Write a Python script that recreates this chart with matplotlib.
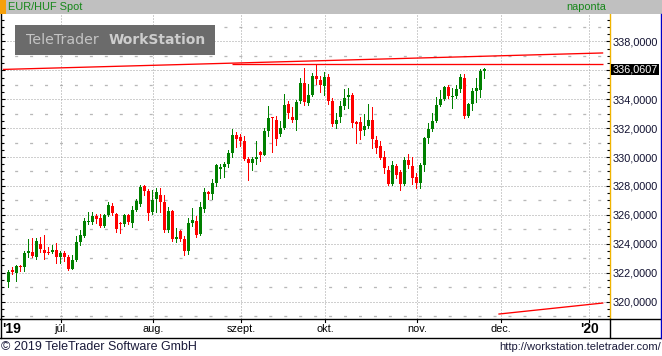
import matplotlib
matplotlib.use("Agg")
import matplotlib.pyplot as plt
import matplotlib.transforms as mtransforms
from matplotlib.lines import Line2D
from matplotlib.patches import Rectangle
from matplotlib.ticker import MultipleLocator, FuncFormatter
import numpy as np
import pandas as pd

plt.rcParams['font.family'] = ['Liberation Sans', 'DejaVu Sans']

# ---------------- data ----------------
title = "EUR/HUF Spot"
period_label = "naponta"
start_date = "2019-06-12"
end_axis_date = "2020-01-31"

opens = [
    321.37, 322.18, 322.00, 322.44, 322.41, 323.36, 323.43, 323.06, 323.98, 323.57,
    323.43, 323.43, 323.57, 323.11, 323.38, 323.08, 322.28, 322.87, 324.10, 324.54,
    325.51, 325.51, 325.92, 325.80, 325.23, 325.99, 326.64, 326.06, 325.46, 325.34,
    325.99, 325.46, 326.33, 326.75, 327.99, 327.67, 326.17, 327.09, 327.37, 326.89,
    324.95, 326.26, 324.30, 324.88, 324.33, 323.52, 325.46, 325.57, 324.67, 326.38,
    327.58, 327.44, 328.20, 329.17, 329.31, 329.52, 330.28, 331.52, 331.41, 331.11,
    329.86, 329.59, 329.89, 330.35, 330.14, 331.78, 332.75, 332.56, 331.57, 331.98,
    333.67, 332.77, 332.56, 333.88, 335.12, 333.76, 334.29, 335.61, 335.33, 334.94,
    335.51, 333.88, 332.28, 332.79, 333.53, 334.15, 334.29, 332.45, 332.40, 331.89,
    332.17, 332.56, 331.18, 330.78, 330.02, 329.10, 328.13, 329.38, 328.94, 328.11,
    329.79, 329.38, 328.62, 328.18, 329.45, 331.34, 331.94, 332.49, 333.60, 334.01,
    334.84, 334.15, 334.22, 334.71, 335.49, 332.84, 333.67, 334.57, 334.66, 335.98,
]
highs = [
    322.18, 322.37, 322.53, 322.51, 323.50, 324.33, 324.38, 324.38, 324.47, 324.61,
    323.75, 323.91, 324.03, 323.47, 323.50, 323.20, 323.20, 324.54, 324.95, 325.76,
    326.17, 326.19, 326.06, 326.06, 326.06, 326.87, 326.80, 326.15, 325.53, 326.06,
    326.06, 326.61, 327.09, 328.04, 328.06, 327.76, 327.72, 327.86, 327.86, 327.37,
    326.56, 326.33, 325.09, 324.95, 324.53, 325.78, 326.49, 325.92, 326.86, 327.83,
    327.67, 328.48, 329.52, 329.52, 329.68, 330.48, 331.92, 331.73, 331.59, 331.45,
    330.02, 330.02, 331.11, 330.44, 331.98, 333.53, 332.79, 332.84, 332.49, 334.36,
    333.85, 333.46, 333.95, 335.47, 336.14, 335.05, 335.81, 336.39, 335.61, 335.86,
    335.74, 334.06, 333.02, 333.88, 334.71, 334.75, 334.45, 332.52, 332.77, 332.98,
    333.65, 333.44, 331.45, 331.11, 330.42, 329.38, 329.72, 329.49, 329.10, 330.02,
    330.21, 330.02, 328.87, 329.56, 331.41, 332.33, 333.07, 334.15, 334.64, 334.94,
    334.98, 334.75, 334.98, 335.77, 335.74, 333.76, 334.75, 335.49, 336.07, 336.18,
]
lows = [
    321.03, 321.91, 321.42, 322.11, 322.14, 323.11, 323.06, 322.95, 323.41, 322.97,
    323.29, 323.34, 322.69, 322.65, 322.83, 322.18, 322.23, 322.81, 323.91, 324.47,
    325.37, 325.39, 325.46, 325.16, 325.16, 325.92, 325.99, 324.81, 324.77, 325.25,
    325.39, 325.18, 326.26, 326.61, 327.37, 325.64, 326.06, 326.22, 326.19, 324.83,
    324.79, 324.19, 324.14, 324.21, 323.24, 323.29, 325.23, 324.44, 324.60, 326.22,
    327.07, 327.09, 328.02, 328.57, 328.64, 329.33, 330.02, 330.72, 330.78, 329.79,
    328.41, 329.10, 329.52, 329.72, 330.14, 331.45, 330.37, 330.83, 331.45, 331.94,
    332.72, 332.45, 331.87, 333.76, 333.58, 333.60, 334.20, 335.03, 334.52, 334.29,
    333.67, 332.17, 331.98, 332.45, 333.32, 333.37, 332.10, 330.99, 331.27, 331.52,
    332.03, 330.65, 330.30, 329.84, 328.87, 328.06, 328.06, 328.57, 327.72, 328.06,
    329.26, 328.11, 327.83, 327.88, 329.03, 330.99, 331.80, 332.45, 333.53, 333.95,
    334.11, 333.41, 334.11, 334.52, 332.72, 332.79, 333.25, 333.83, 334.15, 335.49,
]
closes = [
    322.07, 322.04, 322.46, 322.37, 323.36, 323.50, 323.15, 324.21, 323.64, 323.38,
    323.36, 323.57, 323.11, 323.38, 323.11, 322.25, 322.87, 324.10, 324.61, 325.57,
    325.60, 325.92, 325.74, 325.25, 325.99, 326.68, 326.11, 325.04, 325.39, 325.97,
    325.48, 326.33, 326.96, 327.92, 327.67, 326.15, 327.02, 327.58, 326.89, 324.95,
    326.26, 324.33, 324.49, 324.33, 323.52, 325.46, 325.64, 324.60, 326.56, 327.58,
    327.44, 328.18, 329.45, 329.33, 329.52, 330.28, 331.52, 331.25, 331.11, 329.84,
    329.59, 329.86, 330.02, 330.16, 331.78, 332.70, 332.68, 331.25, 331.98, 333.60,
    333.07, 332.56, 333.81, 335.12, 333.83, 334.29, 335.58, 335.40, 334.98, 335.54,
    333.90, 332.28, 332.56, 333.53, 334.08, 334.29, 332.38, 332.26, 331.82, 332.17,
    332.56, 331.22, 330.65, 329.91, 329.22, 328.13, 329.45, 328.75, 328.11, 329.79,
    329.45, 328.57, 328.22, 329.45, 331.34, 331.94, 332.49, 333.60, 334.01, 334.84,
    334.22, 334.22, 334.71, 335.54, 332.84, 333.67, 334.57, 334.75, 335.98, 336.0607,
]
last_price = 336.0607

month_names = {7: "júl.", 8: "aug.", 9: "szept.", 10: "okt.", 11: "nov.", 12: "dec."}
year_labels = {2019: "'19", 2020: "'20"}

# trend lines (x in trading-day index, y in HUF)
trend_up_x = [-1.3, 148.7]
trend_up_y = [336.06, 337.20]
resist_x = [56.0, 148.7]
resist_y = [336.42, 336.42]
trend_low_x = [122.5, 148.75]
trend_low_y = [319.13, 319.90]

# ---------------- figure ----------------
W, H, DPI = 662, 356, 100
fig = plt.figure(figsize=(W / DPI, H / DPI), dpi=DPI, facecolor="white")

def fx(p):
    return p / W

def fy(p):
    return 1 - p / H

HEAD = 13.5
PLOT_BOTTOM = 319.3
PLOT_RIGHT = 610.0

ax = fig.add_axes([fx(1), fy(PLOT_BOTTOM), fx(PLOT_RIGHT - 1), (PLOT_BOTTOM - HEAD) / H])
ax.set_facecolor("white")
ax.set_xlim(-1.8, 150.4)
ax.set_ylim(318.77, 339.93)

o = np.array(opens); h = np.array(highs); l = np.array(lows); c = np.array(closes)
idx = np.arange(len(o))
cols = np.where(c >= o, "#008000", "#ff0000")

# grid
px_lw = 72.0 / DPI
for v in range(320, 340, 2):
    ax.axhline(v, color="#a0a0a0", lw=px_lw, ls=(0, (1, 2)), zorder=1)
for v in range(319, 341, 2):
    ax.axhline(v, color="#b8b8b8", lw=px_lw * 1.3, ls=(1, (2.3, 9.2)), zorder=1)

all_days = pd.bdate_range(start_date, end_axis_date)
month_pos = []
for i in range(1, len(all_days)):
    if all_days[i].month != all_days[i - 1].month:
        month_pos.append((i, all_days[i]))
for i, d in month_pos:
    ax.axvline(i + 0.25, color="#a0a0a0", lw=px_lw, ls=(0, (1, 2)), zorder=1)

# candles
ax.vlines(idx, l, h, colors=cols, lw=px_lw, zorder=3, antialiased=False)
body_bottom = np.minimum(o, c)
body_height = np.maximum(np.abs(c - o), 0.07)
ax.bar(idx, body_height, bottom=body_bottom, width=0.78, color=cols,
       linewidth=0, zorder=4, antialiased=False)

# trend lines
for xs, ys in [(trend_up_x, trend_up_y), (resist_x, resist_y), (trend_low_x, trend_low_y)]:
    ax.plot(xs, ys, color="#ff0000", lw=0.95, zorder=5, solid_capstyle="butt")

# axes styling
for s in ["top", "bottom"]:
    ax.spines[s].set_visible(False)
ax.spines["left"].set_color("black")
ax.spines["left"].set_linewidth(1.0)
ax.spines["right"].set_color("#f0b400")
ax.spines["right"].set_linewidth(1.0)
ax.set_xticks([])
ax.set_yticks(range(320, 340, 2))
ax.yaxis.set_minor_locator(MultipleLocator(0.5))

def ylabel_fmt(v, p):
    # the level right under the last-price box is covered by it in the original
    if abs(v - round(last_price)) < 1e-9:
        return ""
    return f"{v:.4f}".replace(".", ",")

ax.yaxis.set_major_formatter(FuncFormatter(ylabel_fmt))
ax.tick_params(axis="y", which="major", direction="in", left=True, right=True,
               length=3.2, width=0.8, color="black", labelleft=False, labelright=True,
               labelsize=7.8, labelcolor="#101030", pad=2.2)
ax.tick_params(axis="y", which="minor", direction="in", left=True, right=True,
               length=2.2, width=0.8, color="black")

fig.canvas.draw()
# last price box
y_disp = ax.transData.transform((0, last_price))[1]
fig.patches.append(Rectangle((610.8, y_disp - 5.5), 48.5, 11, transform=None,
                             facecolor="black", edgecolor="none", zorder=10))
fig.text(fx(612.3), y_disp / H, f"{last_price:.4f}".replace(".", ","), color="white",
         fontsize=7.8, ha="left", va="center", zorder=11)

# header
fig.patches.append(Rectangle((0, fy(HEAD)), 1, HEAD / H, transform=fig.transFigure,
                             facecolor="#c0c0c0", edgecolor="none", zorder=0))
fig.patches.append(Rectangle((0, fy(HEAD)), fx(5.5), HEAD / H, transform=fig.transFigure,
                             facecolor="#f5a00a", edgecolor="none", zorder=1))
fig.text(fx(8), fy(6.8), title, color="#17871a", fontsize=7.9, ha="left", va="center")
fig.text(fx(606), fy(6.8), period_label, color="#17871a", fontsize=7.9, ha="right", va="center")

# logo
fig.patches.append(Rectangle((fx(15), fy(55)), fx(200), 30 / H, transform=fig.transFigure,
                             facecolor="#6b6b6b", edgecolor="none", zorder=20))
fig.text(fx(26), fy(40.5), "TeleTrader", color="#c4c4c4", fontsize=10.2,
         family="DejaVu Sans", ha="left", va="center", zorder=21)
fig.text(fx(109), fy(40.5), "WorkStation", color="#cdcdcd", fontsize=10.0,
         family="DejaVu Sans", weight="bold", ha="left", va="center", zorder=21)

# frame lines
frame = [
    ((0, W), (PLOT_BOTTOM, PLOT_BOTTOM), "black"),
    ((0, W), (338, 338), "black"),
    ((609.5, 609.5), (PLOT_BOTTOM, 338), "black"),
    ((0.5, 0.5), (PLOT_BOTTOM, 338), "black"),
    ((660.8, 660.8), (HEAD, 338), "#0000c8"),
]
for xs, ys, col in frame:
    fig.lines.append(Line2D([fx(x) for x in xs], [fy(y) for y in ys], color=col, lw=1.0,
                            transform=fig.transFigure))

# bottom axis labels
trans = mtransforms.blended_transform_factory(ax.transData, fig.transFigure)
for i, d in month_pos:
    x = i + 0.25
    fig.lines.append(Line2D([x, x], [fy(PLOT_BOTTOM), fy(PLOT_BOTTOM + 2.5)], color="black",
                            lw=0.8, transform=trans))
    if d.month == 1:
        fig.text(x, fy(328.8), year_labels[d.year], transform=trans, fontsize=10,
                 weight="bold", ha="center", va="center")
    elif d.month in month_names:
        fig.text(x, fy(328.8), month_names[d.month], transform=trans, fontsize=7.8,
                 ha="center", va="center")
fig.text(fx(2), fy(328.8), year_labels[2019], fontsize=10, weight="bold",
         ha="left", va="center")

# footer
fig.text(fx(1), fy(347.5), "© 2019 TeleTrader Software GmbH", fontsize=9,
         color="#1a1a3a", ha="left", va="center")
fig.text(fx(661), fy(347.5), "http://workstation.teletrader.com/", fontsize=8,
         color="#1a1a3a", ha="right", va="center")

fig.savefig("out.png", dpi=DPI, facecolor="white")
